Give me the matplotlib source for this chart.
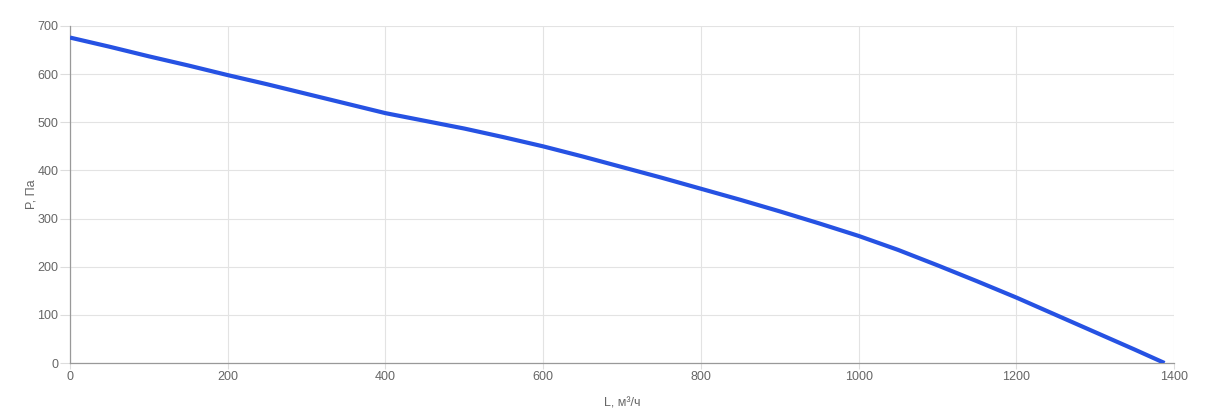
import matplotlib.pyplot as plt
import matplotlib as mpl

mpl.rcParams['font.family'] = ['Liberation Sans', 'DejaVu Sans']

# flow (m3/h) vs pressure (Pa)
flow = [0, 50, 100, 150, 200, 250, 300, 350, 400, 450, 500, 550, 600, 650, 700,
        750, 800, 850, 900, 950, 1000, 1050, 1100, 1150, 1200, 1250, 1300, 1350, 1388]
pressure = [676, 657, 637, 618, 598, 579, 559, 539, 519, 503, 487, 469, 450, 429, 407,
            385, 362, 339, 315, 290, 264, 235, 203, 170, 136, 100, 64, 28, 0]

x_ticks = [0, 200, 400, 600, 800, 1000, 1200, 1400]
y_ticks = [0, 100, 200, 300, 400, 500, 600, 700]

fig = plt.figure(figsize=(12.13, 4.2), dpi=100)
ax = fig.add_axes([70 / 1213, 57 / 420, 1104 / 1213, 337 / 420])

ax.plot(flow, pressure, color='#2652e3', lw=3, solid_capstyle='butt',
        solid_joinstyle='round', zorder=3)

ax.set_xlim(0, 1400)
ax.set_ylim(0, 700)
ax.set_xticks(x_ticks)
ax.set_yticks(y_ticks)
ax.grid(True, color='#e3e3e3', lw=0.8)
ax.tick_params(labelsize=9, labelcolor='#666666', color='#dddddd', width=0.8)
ax.tick_params(axis='y', length=7.5, pad=1)
ax.tick_params(axis='x', length=4, pad=2)

for side in ['top', 'right']:
    ax.spines[side].set_visible(False)
for side in ['left', 'bottom']:
    ax.spines[side].set_color('#999999')
    ax.spines[side].set_linewidth(0.9)

ax.set_xlabel('L, м³/ч', fontsize=9, color='#666666', labelpad=10)
ax.set_ylabel('P, Па', fontsize=9, color='#666666', labelpad=0)

fig.savefig('out.png', dpi=100)
